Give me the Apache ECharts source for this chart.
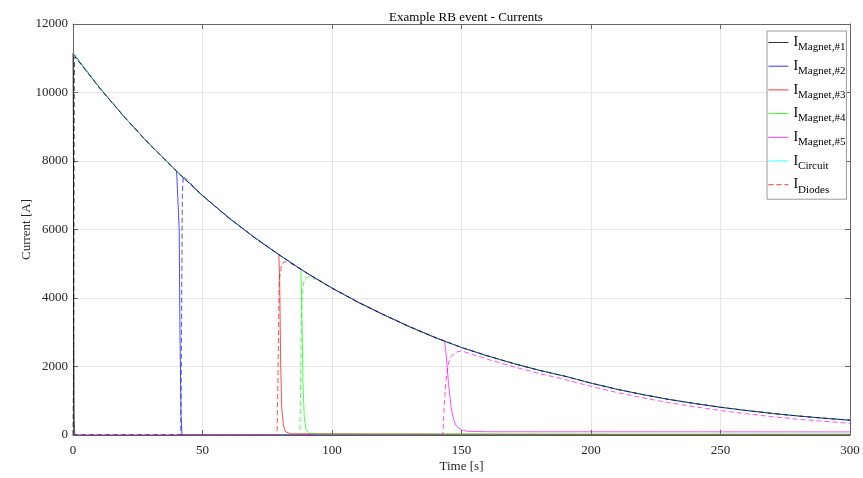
<!DOCTYPE html>
<html><head><meta charset="utf-8">
<script src="https://cdn.jsdelivr.net/npm/echarts@6/dist/echarts.min.js"></script>
<style>html,body{margin:0;padding:0;background:#fff}#c{width:863px;height:478px}</style>
</head><body><div id="c"></div>
<script>
// ---- data ----
const timeS    = [0,10,20,30,40,50,60,70,80,90,100,110,120,130,140,150,160,170,180,190,200,210,220,230,240,250,260,270,280,290,300];
const circuitA = [11150,10160,9270,8450,7700,6990,6350,5770,5240,4740,4290,3880,3510,3160,2840,2555,2310,2090,1890,1715,1515,1335,1180,1040,920,810,715,630,555,490,432];

// magnet currents: transient after quench (t, A)
const mag1Drop = [[0,11150],[0.15,9000],[0.3,3000],[0.45,500],[0.7,0],[300,0]];
const mag2Drop = [[40.7,7650],[41.0,6000],[41.3,3000],[41.7,600],[42.1,0],[300,0]];
const mag3Drop = [[79.5,5265],[79.8,4500],[80.2,2000],[80.6,800],[81.2,300],[82,100],[84,35],[97,35],[97.3,0],[300,0]];
const mag4Drop = [[88,4840],[88.4,3500],[88.8,1500],[89.3,500],[90,150],[91.5,50],[95,25],[300,25]];
const mag5Drop = [[143.5,2740],[144,2400],[145,1500],[146,800],[147,450],[148,260],[150,150],[152,110],[160,95],[300,90]];

// diode currents: rise after quench (t, A)
const diode1Rise = [[0,0],[0.2,1500],[0.35,6000],[0.5,10500],[0.7,11050]];
const diode2Rise = [[0,0],[41.6,0],[41.9,3000],[42.2,7000],[42.6,7560]];
const diode3Rise = [[0,0],[78.8,0],[79.2,2000],[79.6,4500],[80.5,4950],[81.5,5060],[83.5,5040]];
const diode4Rise = [[0,0],[87.6,0],[87.9,1500],[88.2,3500],[88.6,4300],[89.5,4560],[91,4620],[94,4540]];
const diode5Rise = [[0,0],[142.8,0],[143.3,800],[144,1600],[145,2100],[146,2300],[148,2420],[150,2455]];
const diode5TailT = [160,170,180,190,200,210,220,230,240,250,260,270,280,290,300];
const diode5TailA = [2215,1995,1795,1620,1420,1240,1085,945,825,715,620,535,460,400,342];

const legendNames = ['Magnet,#1','Magnet,#2','Magnet,#3','Magnet,#4','Magnet,#5','Circuit','Diodes'];

// ---- build series ----
const circ = timeS.map((t,i)=>[t,circuitA[i]]);
const before = tq => circ.filter(p=>p[0] < tq);
const after  = tq => circ.filter(p=>p[0] > tq);
const mag = (drop) => before(drop[0][0]).concat(drop);
const dio = (rise) => rise.concat(after(rise[rise.length-1][0] + 5));

const C = {k:'#000000', b:'#0000ff', r:'#ff0000', g:'#00ff00', m:'#ff00ff', c:'#00ffff'};
const LW = 0.7;
function line(name, data, color, dashed, z){
  return {name, type:'line', data, showSymbol:false, symbol:'none', animation:false, z,
    lineStyle:{color, width:LW, type: dashed ? [5,3] : 'solid'}, itemStyle:{color}};
}
const d5 = diode5Rise.concat(diode5TailT.map((t,i)=>[t,diode5TailA[i]]));
const series = [
  line('Magnet,#1', mag1Drop, C.k, false, 2),
  line('Magnet,#2', mag(mag2Drop), C.b, false, 2),
  line('Magnet,#3', mag(mag3Drop), C.r, false, 2),
  line('Magnet,#4', mag(mag4Drop), C.g, false, 2),
  line('Magnet,#5', mag(mag5Drop), C.m, false, 2),
  line('Circuit', circ, C.c, false, 3),
  line('D4', dio(diode4Rise), C.g, true, 4),
  line('Diodes', dio(diode3Rise), C.r, true, 4),
  line('D1', dio(diode1Rise), C.k, true, 5),
  line('D2', dio(diode2Rise), C.b, true, 6),
  line('D5', d5, C.m, true, 6)
];

const serif = 'Liberation Serif, Times New Roman, serif';
const axisCol = '#666666';
const plain = v => String(v);
const chart = echarts.init(document.getElementById('c'), null, {renderer:'canvas'});
chart.setOption({
  backgroundColor:'#ffffff',
  animation:false,
  title:{text:'Example RB event - Currents', left:461, top:6, textAlign:'center',
    textStyle:{fontFamily:serif, fontSize:13, fontWeight:'normal', color:'#000'}},
  grid:{left:73, right:13, top:24, bottom:43},
  legend:{data:legendNames, orient:'vertical', left:767, top:31, padding:[1,1,4,1],
    itemWidth:20, itemHeight:10, itemGap:2.7, backgroundColor:'#fff', borderColor:'#999', borderWidth:1,
    itemStyle:{opacity:0, borderWidth:0},
    lineStyle:{width:0.8},
    formatter: n => '{i|I}{s|' + n + '}',
    textStyle:{fontFamily:serif, color:'#000',
      rich:{ i:{fontFamily:serif, fontSize:14, lineHeight:20, color:'#000'},
             s:{fontFamily:serif, fontSize:11, lineHeight:11, padding:[10,0,0,0], color:'#000'} }}},
  xAxis:[
    {type:'value', min:0, max:300, interval:50, position:'bottom',
     name:'Time [s]', nameLocation:'middle', nameGap:25, nameMoveOverlap:false,
     nameTextStyle:{fontFamily:serif, fontSize:13, color:'#262626'},
     axisLine:{show:true, onZero:false, lineStyle:{color:axisCol, width:1}},
     axisTick:{show:true, inside:true, length:5, lineStyle:{color:axisCol}},
     axisLabel:{fontFamily:serif, fontSize:13, color:'#262626', margin:9, formatter:plain},
     splitLine:{show:true, lineStyle:{color:'#e6e6e6', width:1}}},
    {type:'value', min:0, max:300, interval:50, position:'top',
     axisLine:{show:true, onZero:false, lineStyle:{color:axisCol, width:1}},
     axisTick:{show:true, inside:true, length:5, lineStyle:{color:axisCol}},
     axisLabel:{show:false}, splitLine:{show:false}}
  ],
  yAxis:[
    {type:'value', min:0, max:12000, interval:2000, position:'left',
     name:'Current [A]', nameLocation:'middle', nameGap:40, nameMoveOverlap:false,
     nameTextStyle:{fontFamily:serif, fontSize:13, color:'#262626'},
     axisLine:{show:true, onZero:false, lineStyle:{color:axisCol, width:1}},
     axisTick:{show:true, inside:true, length:5, lineStyle:{color:axisCol}},
     axisLabel:{fontFamily:serif, fontSize:13, color:'#262626', margin:5, formatter:plain},
     splitLine:{show:true, lineStyle:{color:'#e6e6e6', width:1}}},
    {type:'value', min:0, max:12000, interval:2000, position:'right',
     axisLine:{show:true, onZero:false, lineStyle:{color:axisCol, width:1}},
     axisTick:{show:true, inside:true, length:5, lineStyle:{color:axisCol}},
     axisLabel:{show:false}, splitLine:{show:false}}
  ],
  series: series
});
</script></body></html>
